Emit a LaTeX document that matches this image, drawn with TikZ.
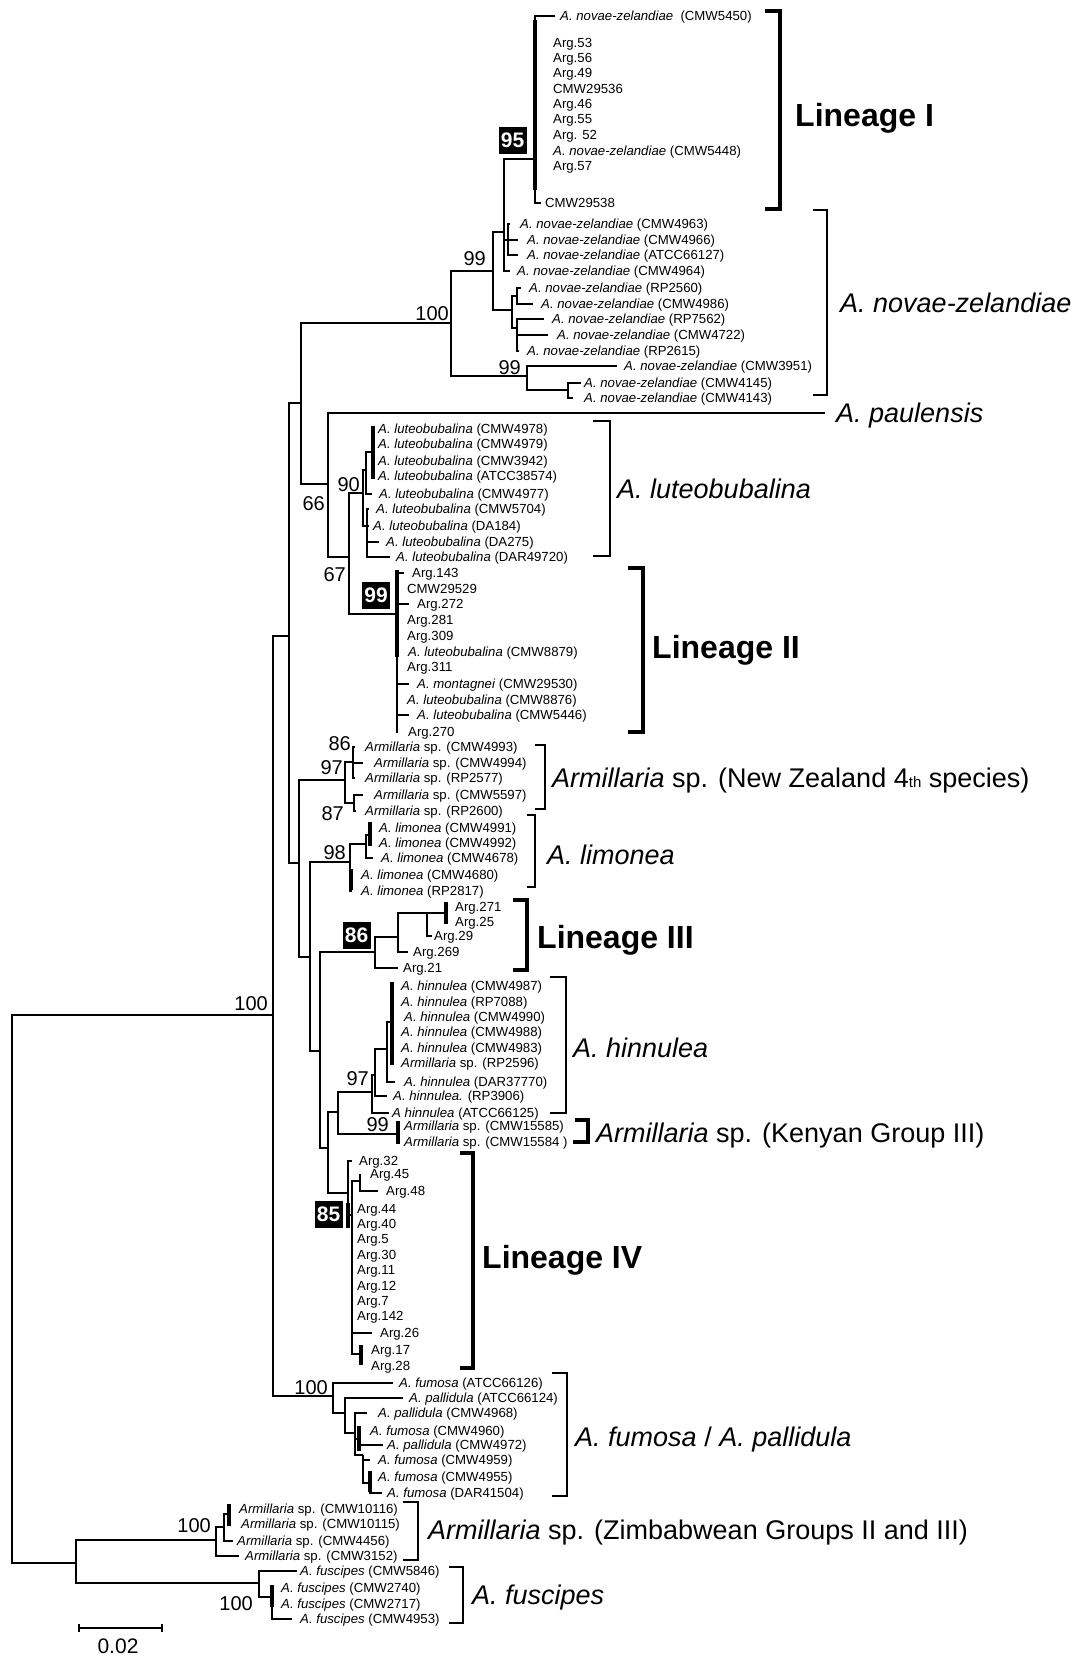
\documentclass[tikz,border=0pt]{standalone}
\usepackage{fontspec}
\setmainfont{Liberation Sans}
\newcommand\LT[5]{\coordinate (#1) at (#2,#3);\node[leaf] (#1l) at (#4,#3) {#5};}
\newcommand\LX[4]{\node[leaf] (#1) at (#2,#3) {#4};}
\newcommand\SpNZ{\textit{A. novae-zelandiae}}
\newcommand\SpLu{\textit{A. luteobubalina}}
\newcommand\SpAr{\textit{Armillaria} sp.}
\newcommand\SpLi{\textit{A. limonea}}
\newcommand\SpHi{\textit{A. hinnulea}}
\newcommand\SpFu{\textit{A. fumosa}}
\newcommand\SpPa{\textit{A. pallidula}}
\newcommand\SpFs{\textit{A. fuscipes}}
\begin{document}
\begin{tikzpicture}[x=1pt,y=-1pt,
  br/.style={line width=2.5pt,line join=miter},
  thk/.style={line width=4.2pt},
  leaf/.style={anchor=west,inner sep=0pt,text height=9.4pt,text depth=0pt,font=\fontsize{13.2}{15}\selectfont},
  sup/.style={anchor=east,inner sep=0pt,text height=14.3pt,text depth=0pt,font=\fontsize{20}{22}\selectfont},
  bx/.style={fill=black,text=white,inner sep=0pt,minimum width=28pt,minimum height=27pt,font=\bfseries\fontsize{21}{22}\selectfont},
  grp/.style={anchor=west,inner sep=0pt,text height=19.4pt,text depth=0pt,font=\fontsize{27}{30}\selectfont},
  lin/.style={anchor=west,inner sep=0pt,text height=23pt,text depth=0pt,font=\bfseries\fontsize{32}{36}\selectfont},
  bk/.style={line width=2.5pt,line join=miter},
  bkT/.style={line width=4.4pt,line join=miter}]
\useasboundingbox (0,0) rectangle (1075,1657);
\fill[white] (0,0) rectangle (1075,1657);

% ---------- internal nodes ----------
\coordinate (root) at (12,1290);
\coordinate (nMain) at (273,1015);
\coordinate (nOut) at (76,1563);
\coordinate (nA) at (289,636);
\coordinate (nFum) at (333,1396);
\coordinate (nB) at (301,403);
\coordinate (nC) at (299,863);
\coordinate (nNZ) at (451,323);
\coordinate (n66) at (328,484);
\coordinate (n99a) at (493,271);
\coordinate (n99b) at (527,376);
\coordinate (nAA) at (504,232);
\coordinate (nCC) at (512,310);
\coordinate (n95) at (535,159);
\coordinate (nBB) at (508,240);
\coordinate (nD) at (517,296);
\coordinate (nE) at (517,328);
\coordinate (nG) at (568,390);
\coordinate (n67) at (349,557);
\coordinate (nLut) at (363,493);
\coordinate (nL2) at (397,614);
\coordinate (nLut1) at (366,470);
\coordinate (nLut2) at (373,452);
\coordinate (nLut3) at (367,526);
\coordinate (n97) at (345,780);
\coordinate (n86) at (353,762);
\coordinate (n87) at (354,803);
\coordinate (nD2) at (310,957);
\coordinate (n98) at (350,862);
\coordinate (nLim1) at (366,844);
\coordinate (nLim0) at (370,835);
\coordinate (nE2) at (320,1051);
\coordinate (nL3) at (375,952);
\coordinate (nL3a) at (398,937);
\coordinate (nL3b) at (427,913);
\coordinate (nL3c) at (446,913);
\coordinate (nF2) at (328,1148);
\coordinate (nHK) at (338,1112);
\coordinate (n97h) at (372,1092);
\coordinate (nH1) at (375,1075);
\coordinate (nH2) at (387,1049);
\coordinate (nH3) at (392,1022);
\coordinate (nKen) at (398,1134);
\coordinate (nL4) at (348,1193);
\coordinate (nL4b) at (352,1215);
\coordinate (nL4c) at (360,1181);
\coordinate (nL4d) at (361,1354);
\coordinate (nFu2) at (345,1413);
\coordinate (nFu3) at (355,1433);
\coordinate (nFu4) at (359,1439);
\coordinate (nFu5) at (363,1455);
\coordinate (nFu6) at (370,1483);
\coordinate (nZim) at (216,1540);
\coordinate (nZ1) at (224,1527);
\coordinate (nZ2) at (229,1514);
\coordinate (nFus) at (259,1583);
\coordinate (nFus2) at (272,1597);

% ---------- leaves ----------
% Lineage I
\LT{t5450}{555}{16}{560}{\SpNZ\ \ (CMW5450)}
\LX{x53}{553}{43}{Arg.53}
\LX{x56}{553}{58}{Arg.56}
\LX{x49}{553}{73}{Arg.49}
\LX{x536}{553}{89}{CMW29536}
\LX{x46}{553}{104}{Arg.46}
\LX{x55}{553}{119}{Arg.55}
\LX{x52}{553}{135}{Arg. 52}
\LX{x5448}{553}{151}{\SpNZ{} (CMW5448)}
\LX{x57}{553}{166}{Arg.57}
\LT{t538}{541}{203}{545}{CMW29538}
% A. novae-zelandiae
\LT{t4963}{510}{224}{520}{\SpNZ{} (CMW4963)}
\LT{t4966}{518}{240}{527}{\SpNZ{} (CMW4966)}
\LT{tA127}{518}{255}{527}{\SpNZ{} (ATCC66127)}
\LT{t4964}{510}{271}{517}{\SpNZ{} (CMW4964)}
\LT{t2560}{521}{288}{529}{\SpNZ{} (RP2560)}
\LT{t4986}{533}{304}{541}{\SpNZ{} (CMW4986)}
\LT{t7562}{544}{319}{552}{\SpNZ{} (RP7562)}
\LT{t4722}{548}{335}{557}{\SpNZ{} (CMW4722)}
\LT{t2615}{519}{351}{527}{\SpNZ{} (RP2615)}
\LT{t3951}{617}{366}{624}{\SpNZ{} (CMW3951)}
\LT{t4145}{581}{383}{584}{\SpNZ{} (CMW4145)}
\LT{t4143}{573}{398}{584}{\SpNZ{} (CMW4143)}
\coordinate (tPaul) at (825,413);
% luteobubalina
\LX{x4978}{378}{429}{\SpLu{} (CMW4978)}
\LX{x4979}{378}{444}{\SpLu{} (CMW4979)}
\LX{x3942}{378}{461}{\SpLu{} (CMW3942)}
\LX{x38574}{378}{476}{\SpLu{} (ATCC38574)}
\LT{t4977}{372}{494}{379}{\SpLu{} (CMW4977)}
\LT{t5704}{369}{509}{376}{\SpLu{} (CMW5704)}
\LT{tDA184}{369}{526}{373}{\SpLu{} (DA184)}
\LT{tDA275}{379}{542}{386}{\SpLu{} (DA275)}
\LT{tDAR}{390}{557}{396}{\SpLu{} (DAR49720)}
% Lineage II
\LT{tA143}{404}{573}{412}{Arg.143}
\LX{x529}{407}{589}{CMW29529}
\LT{tA272}{409}{604}{417}{Arg.272}
\LX{x281}{407}{620}{Arg.281}
\LX{x309}{407}{636}{Arg.309}
\LX{x8879}{408}{652}{\SpLu{} (CMW8879)}
\LX{x311}{407}{667}{Arg.311}
\LT{tMont}{409}{684}{417}{\textit{A. montagnei} (CMW29530)}
\LX{x8876}{407}{700}{\SpLu{} (CMW8876)}
\LT{t5446}{409}{715}{417}{\SpLu{} (CMW5446)}
\LT{tA270}{398}{732}{408}{Arg.270}
% NZ 4th species
\LT{t4993}{355}{747}{365}{\SpAr{} (CMW4993)}
\LT{t4994}{363}{763}{374}{\SpAr{} (CMW4994)}
\LT{tR2577}{355}{778}{365}{\SpAr{} (RP2577)}
\LT{t5597}{363}{795}{374}{\SpAr{} (CMW5597)}
\LT{tR2600}{356}{811}{365}{\SpAr{} (RP2600)}
% limonea
\LX{x4991}{379}{828}{\SpLi{} (CMW4991)}
\LX{x4992}{379}{843}{\SpLi{} (CMW4992)}
\LT{t4678}{373}{858}{381}{\SpLi{} (CMW4678)}
\LT{t4680}{352}{875}{361}{\SpLi{} (CMW4680)}
\LT{tR2817}{352}{891}{361}{\SpLi{} (RP2817)}
% Lineage III
\LX{x271}{455}{907}{Arg.271}
\LX{x25}{455}{922}{Arg.25}
\LT{tA29}{432}{936}{434}{Arg.29}
\LT{tA269}{408}{952}{413}{Arg.269}
\LT{tA21}{398}{968}{403}{Arg.21}
% hinnulea
\LX{x4987}{401}{986}{\SpHi{} (CMW4987)}
\LX{x7088}{401}{1002}{\SpHi{} (RP7088)}
\LX{x4990}{404}{1017}{\SpHi{} (CMW4990)}
\LX{x4988}{401}{1032}{\SpHi{} (CMW4988)}
\LX{x4983}{401}{1048}{\SpHi{} (CMW4983)}
\LX{x2596}{401}{1063}{\SpAr{} (RP2596)}
\LT{tD3777}{395}{1082}{404}{\SpHi{} (DAR37770)}
\LT{tR3906}{387}{1096}{393}{\textit{A. hinnulea.} (RP3906)}
\LT{tA125}{389}{1113}{392}{\textit{A hinnulea} (ATCC66125)}
\LX{x15585}{404}{1126}{\SpAr{} (CMW15585)}
\LX{x15584}{404}{1142}{\SpAr{} (CMW15584 )}
% Lineage IV
\LT{tA32}{352}{1161}{359}{Arg.32}
\LT{tA45}{360}{1174}{370}{Arg.45}
\LT{tA48}{378}{1191}{386}{Arg.48}
\LX{x44}{357}{1209}{Arg.44}
\LX{x40}{357}{1224}{Arg.40}
\LX{x5}{357}{1239}{Arg.5}
\LX{x30}{357}{1255}{Arg.30}
\LX{x11}{357}{1270}{Arg.11}
\LX{x12}{357}{1286}{Arg.12}
\LX{x7}{357}{1301}{Arg.7}
\LX{x142}{357}{1316}{Arg.142}
\LT{tA26}{372}{1333}{380}{Arg.26}
\LX{x17}{371}{1350}{Arg.17}
\LX{x28}{371}{1366}{Arg.28}
% fumosa / pallidula
\LT{tF126}{393}{1383}{399}{\SpFu{} (ATCC66126)}
\LT{tF124}{403}{1398}{409}{\SpPa{} (ATCC66124)}
\LT{tF4968}{367}{1413}{378}{\SpPa{} (CMW4968)}
\LX{x4960}{370}{1431}{\SpFu{} (CMW4960)}
\LT{tF4972}{383}{1445}{387}{\SpPa{} (CMW4972)}
\LT{tF4959}{370}{1460}{378}{\SpFu{} (CMW4959)}
\LX{x4955}{378}{1477}{\SpFu{} (CMW4955)}
\LT{tF41504}{382}{1493}{387}{\SpFu{} (DAR41504)}
% Zimbabwe
\LX{x10116}{239}{1509}{\SpAr{} (CMW10116)}
\LX{x10115}{241}{1524}{\SpAr{} (CMW10115)}
\LT{tZ4456}{233}{1541}{237}{\SpAr{} (CMW4456)}
\LT{tZ3152}{239}{1556}{245}{\SpAr{} (CMW3152)}
% fuscipes
\LT{tS5846}{297}{1571}{300}{\SpFs{} (CMW5846)}
\LX{x2740}{281}{1588}{\SpFs{} (CMW2740)}
\LX{x2717}{281}{1604}{\SpFs{} (CMW2717)}
\LT{tS4953}{292}{1619}{300}{\SpFs{} (CMW4953)}

% ---------- branches ----------
\draw[br] (root) |- (nMain);
\draw[br] (root) |- (nOut);
\draw[br] (nMain) |- (nA);
\draw[br] (nMain) |- (nFum);
\draw[br] (nA) |- (nB);
\draw[br] (nA) |- (nC);
\draw[br] (nB) |- (nNZ);
\draw[br] (nB) |- (n66);
\draw[br] (nNZ) |- (n99a);
\draw[br] (nNZ) |- (n99b);
\draw[br] (n99a) |- (nAA);
\draw[br] (n99a) |- (nCC);
\draw[br] (nAA) |- (n95);
\draw[br] (nAA) |- (nBB);
\draw[br] (nAA) |- (t4964);
\draw[br] (n95) |- (t5450);
\draw[br] (n95) |- (t538);
\draw[thk] (535,20) -- (535,190);
\draw[br] (nBB) |- (t4963);
\draw[br] (nBB) |- (t4966);
\draw[br] (nBB) |- (tA127);
\draw[br] (nCC) |- (nD);
\draw[br] (nCC) |- (nE);
\draw[br] (nD) |- (t2560);
\draw[br] (nD) |- (t4986);
\draw[br] (nE) |- (t7562);
\draw[br] (nE) |- (t4722);
\draw[br] (nE) |- (t2615);
\draw[br] (n99b) |- (t3951);
\draw[br] (n99b) |- (nG);
\draw[br] (nG) |- (t4145);
\draw[br] (nG) |- (t4143);
\draw[br] (n66) |- (tPaul);
\draw[br] (n66) |- (n67);
\draw[br] (n67) |- (nLut);
\draw[br] (n67) |- (nL2);
\draw[br] (nLut) |- (nLut1);
\draw[br] (nLut) |- (nLut3);
\draw[br] (nLut1) |- (nLut2);
\draw[br] (nLut1) |- (t4977);
\draw[thk] (373,426) -- (373,479);
\draw[br] (nLut3) |- (t5704);
\draw[br] (nLut3) |- (tDA184);
\draw[br] (nLut3) |- (tDA275);
\draw[br] (nLut3) |- (tDAR);
\draw[br] (nL2) |- (tA143);
\draw[br] (nL2) |- (tA272);
\draw[br] (nL2) |- (tMont);
\draw[br] (nL2) |- (t5446);
\draw[br] (nL2) |- (tA270);
\draw[thk] (397,570) -- (397,657);
\draw[br] (nC) |- (n97);
\draw[br] (nC) |- (nD2);
\draw[br] (n97) |- (n86);
\draw[br] (n97) |- (n87);
\draw[br] (n86) |- (t4993);
\draw[br] (n86) |- (t4994);
\draw[br] (n86) |- (tR2577);
\draw[br] (n87) |- (t5597);
\draw[br] (n87) |- (tR2600);
\draw[br] (nD2) |- (n98);
\draw[br] (nD2) |- (nE2);
\draw[br] (n98) |- (nLim1);
\draw[br] (n98) |- (t4680);
\draw[br] (n98) |- (tR2817);
\draw[thk] (351,869) -- (351,890);
\draw[br] (nLim1) |- (nLim0);
\draw[br] (nLim1) |- (t4678);
\draw[thk] (370,822) -- (370,846);
\draw[br] (nE2) |- (nL3);
\draw[br] (nE2) |- (nF2);
\draw[br] (nL3) |- (nL3a);
\draw[br] (nL3) |- (tA21);
\draw[br] (nL3a) |- (nL3b);
\draw[br] (nL3a) |- (tA269);
\draw[br] (nL3b) |- (nL3c);
\draw[br] (nL3b) |- (tA29);
\draw[thk] (446,902) -- (446,924);
\draw[br] (nF2) |- (nHK);
\draw[br] (nF2) |- (nL4);
\draw[br] (nHK) |- (n97h);
\draw[br] (nHK) |- (nKen);
\draw[thk] (398,1121) -- (398,1144);
\draw[br] (n97h) |- (nH1);
\draw[br] (n97h) |- (tA125);
\draw[br] (nH1) |- (nH2);
\draw[br] (nH1) |- (tR3906);
\draw[br] (nH2) |- (nH3);
\draw[br] (nH2) |- (tD3777);
\draw[thk] (392,982) -- (392,1065);
\draw[br] (nL4) |- (tA32);
\draw[br] (nL4) |- (nL4b);
\draw[thk] (348,1203) -- (348,1228);
\draw[br] (nL4b) |- (nL4c);
\draw[br] (nL4b) |- (tA26);
\draw[br] (nL4b) |- (nL4d);
\draw[br] (nL4c) |- (tA45);
\draw[br] (nL4c) |- (tA48);
\draw[thk] (361,1345) -- (361,1365);
\draw[br] (nFum) |- (tF126);
\draw[br] (nFum) |- (nFu2);
\draw[br] (nFu2) |- (tF124);
\draw[br] (nFu2) |- (nFu3);
\draw[br] (nFu3) |- (tF4968);
\draw[br] (nFu3) |- (nFu4);
\draw[br] (nFu3) |- (nFu5);
\draw[thk] (359,1426) -- (359,1451);
\draw[br] (nFu4) |- (tF4972);
\draw[br] (nFu5) |- (tF4959);
\draw[br] (nFu5) |- (nFu6);
\draw[thk] (370,1471) -- (370,1492);
\draw[br] (nFu6) |- (tF41504);
\draw[br] (nOut) |- (nZim);
\draw[br] (nOut) |- (nFus);
\draw[br] (nZim) |- (nZ1);
\draw[br] (nZim) |- (tZ3152);
\draw[br] (nZ1) |- (nZ2);
\draw[br] (nZ1) |- (tZ4456);
\draw[thk] (229,1504) -- (229,1526);
\draw[br] (nFus) |- (tS5846);
\draw[br] (nFus) |- (nFus2);
\draw[br] (nFus2) |- (tS4953);
\draw[thk] (272,1585) -- (272,1607);

% ---------- support values ----------
\node[sup] (s100m) at (268,1003) {100};
\node[sup] (s100nz) at (449,313) {100};
\node[sup] (s99a) at (486,258) {99};
\node[sup] (s99b) at (521,367) {99};
\node[sup] (s66) at (325,503) {66};
\node[sup] (s90) at (360,484) {90};
\node[sup] (s67) at (346,574) {67};
\node[sup] (s86) at (351,743) {86};
\node[sup] (s97) at (343,767) {97};
\node[sup] (s87) at (344,813) {87};
\node[sup] (s98) at (346,852) {98};
\node[sup] (s97h) at (369,1078) {97};
\node[sup] (s99k) at (389,1124) {99};
\node[sup] (s100f) at (328,1387) {100};
\node[sup] (s100z) at (211,1525) {100};
\node[sup] (s100s) at (253,1603) {100};
\node[bx] (b95) at (512.5,140) {95};
\node[bx] (b99) at (376,595) {99};
\node[bx] (b86) at (356.5,935) {86};
\node[bx] (b85) at (328.5,1214) {85};

% ---------- brackets ----------
\draw[bkT] (765,11) -- (780,11) -- (780,209) -- (765,209);
\draw[bk] (813,210) -- (827,210) -- (827,395) -- (813,395);
\draw[bk] (593,421) -- (610,421) -- (610,556) -- (593,556);
\draw[bkT] (628,568) -- (643,568) -- (643,732) -- (628,732);
\draw[bk] (535,745) -- (545,745) -- (545,809) -- (535,809);
\draw[bk] (527,815) -- (535,815) -- (535,887) -- (527,887);
\draw[bkT] (513,900) -- (527,900) -- (527,970) -- (513,970);
\draw[bk] (550,977) -- (566,977) -- (566,1113) -- (550,1113);
\draw[line width=3.2pt,line join=miter] (575,1120) -- (588,1120) -- (588,1142) -- (573,1142);
\draw[bkT] (460,1153) -- (473,1153) -- (473,1368) -- (460,1368);
\draw[bk] (552,1373) -- (567,1373) -- (567,1496) -- (552,1496);
\draw[bk] (403,1502) -- (418,1502) -- (418,1560) -- (403,1560);
\draw[bk] (449,1567) -- (463,1567) -- (463,1623) -- (449,1623);

% ---------- group labels ----------
\node[lin] (gL1) at (795,115) {Lineage I};
\node[grp] (gNZ) at (840,303) {\itshape A. novae-zelandiae};
\node[grp] (gPa) at (836,413) {\itshape A. paulensis};
\node[grp] (gLu) at (617,489) {\itshape A. luteobubalina};
\node[lin] (gL2) at (652,647) {Lineage II};
\node[grp] (gN4) at (552,778) {\textit{Armillaria} sp. (New Zealand 4{\fontsize{15}{15}\selectfont th} species)};
\node[grp] (gLi) at (547,855) {\itshape A. limonea};
\node[lin] (gL3) at (537,937) {Lineage III};
\node[grp] (gHi) at (573,1048) {\itshape A. hinnulea};
\node[grp] (gKe) at (596,1133) {\textit{Armillaria} sp. (Kenyan Group III)};
\node[lin] (gL4) at (482,1257) {Lineage IV};
\node[grp] (gFu) at (575,1437) {\textit{A. fumosa} / \textit{A. pallidula}};
\node[grp] (gZi) at (428,1530) {\textit{Armillaria} sp. (Zimbabwean Groups II and III)};
\node[grp] (gFs) at (472,1595) {\itshape A. fuscipes};

% ---------- scale bar ----------
\coordinate (sbL) at (79,1628);
\coordinate (sbR) at (162,1628);
\draw[line width=1.8pt] (sbL) -- (sbR);
\draw[line width=1.4pt] (79,1624) -- (79,1632) (162,1624) -- (162,1632);
\node[inner sep=0pt,font=\fontsize{21}{23}\selectfont] (sbT) at (118,1646) {0.02};
\end{tikzpicture}
\end{document}
